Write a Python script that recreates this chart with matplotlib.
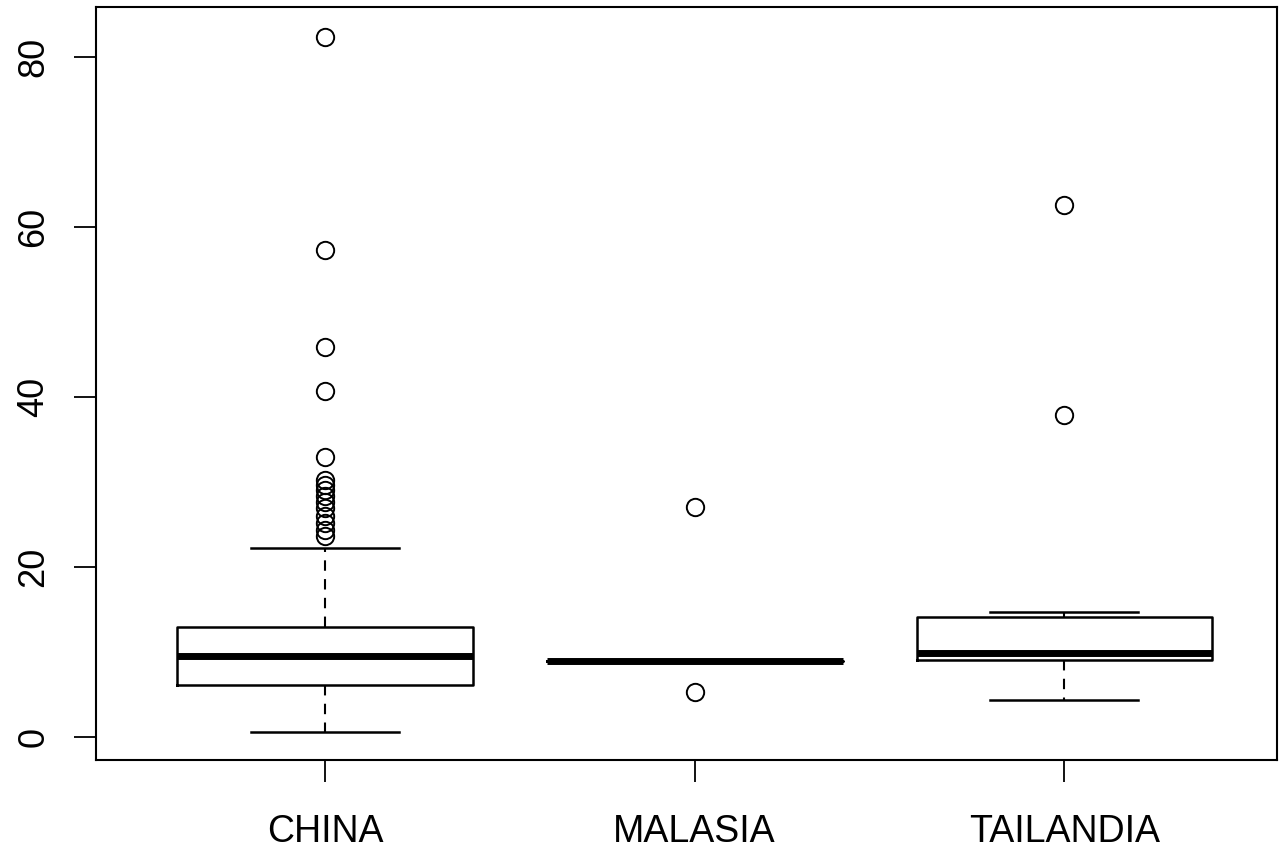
import matplotlib
matplotlib.use("Agg")
import matplotlib.pyplot as plt

plt.rcParams['font.family'] = ['Liberation Sans', 'DejaVu Sans']

paises = ["CHINA", "MALASIA", "TAILANDIA"]

# five-number summaries
whislo = [0.6, 8.95, 4.35]
q1 = [6.1, 8.95, 9.05]
med = [9.5, 8.95, 9.9]
q3 = [12.9, 8.95, 14.1]
whishi = [22.2, 8.95, 14.7]

outliers_china = [23.7, 24.4, 25.2, 26.0, 26.9, 27.6, 28.3, 29.0, 29.6, 30.2,
                  32.9, 40.7, 45.9, 57.3, 82.4]
outliers_malasia = [27.1, 5.3]
outliers_tailandia = [37.9, 62.6]
outliers = [outliers_china, outliers_malasia, outliers_tailandia]

stats = []
for i in range(len(paises)):
    stats.append(dict(label=paises[i], whislo=whislo[i], q1=q1[i], med=med[i],
                      q3=q3[i], whishi=whishi[i], fliers=outliers[i]))

fig = plt.figure(figsize=(12.8, 8.51), dpi=100)
ax = fig.add_axes([0.075, 0.107, 0.923, 0.885])

ax.bxp(stats, positions=[1, 2, 3], widths=0.8, showfliers=True,
       boxprops=dict(color='black', linewidth=1.8),
       medianprops=dict(color='black', linewidth=5, solid_capstyle='butt'),
       whiskerprops=dict(color='black', linewidth=1.5, linestyle=(0, (5, 4))),
       capprops=dict(color='black', linewidth=1.8),
       capwidths=0.4,
       flierprops=dict(marker='o', markersize=12.5, markerfacecolor='none',
                       markeredgecolor='black', markeredgewidth=1.4))

ax.set_xlim(0.381, 3.576)
ax.set_ylim(-2.7, 85.9)
ax.set_yticks([0, 20, 40, 60, 80])
ax.set_yticklabels(['0', '20', '40', '60', '80'], rotation=90, va='center')
ax.tick_params(axis='y', length=16, width=1.3, labelsize=26, pad=16)
ax.tick_params(axis='x', length=16, width=1.3, labelsize=27, pad=23)
for s in ax.spines.values():
    s.set_linewidth(1.5)

fig.savefig("out.png", dpi=100)
